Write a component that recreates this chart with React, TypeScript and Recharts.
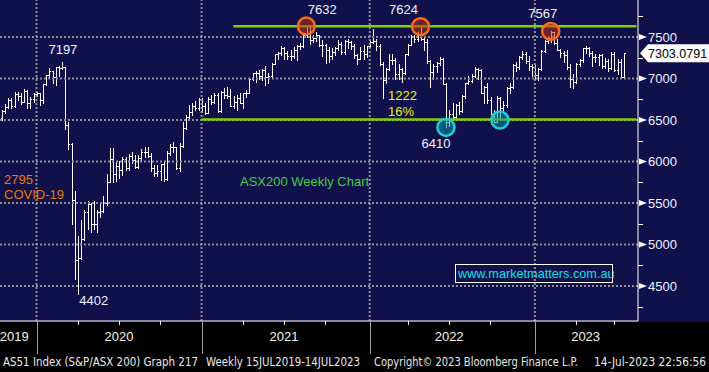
import React from 'react';
import { ComposedChart, Bar, XAxis, YAxis, ReferenceLine, ReferenceDot } from 'recharts';

// ASX200 weekly bars, week ending 11 Oct 2019 .. 14 Jul 2023
const weekOpen = [
  6530, 6606, 6651, 6741, 6670, 6815, 6794, 6717, 6846, 6710, 6750, 6816,
  6821, 6735, 6929, 7042, 7091, 7017, 7133, 7130, 7139, 6441, 6216, 5539, 4817, 4842, 5068, 5388, 5487, 5242,
  5245, 5391, 5405, 5497, 5755, 6036, 5847, 5942, 5897, 6032, 5919, 6069, 6024, 5928, 6040, 6111, 6111, 6072,
  5925, 5859, 5885, 5965, 5791, 6102, 6176, 6173, 5927, 6190, 6405, 6539, 6601, 6670, 6642, 6757,
  6664, 6587, 6757, 6715, 6800, 6607, 6840, 6800, 6794, 6673, 6711, 6767, 6708, 6824, 6828, 6995, 7063, 7061,
  7025, 7105, 7014, 7030, 7179, 7296, 7312, 7368, 7308, 7269, 7272, 7347, 7394, 7392, 7522, 7628, 7461, 7489,
  7522, 7406, 7404, 7342, 7277, 7320, 7362, 7415, 7324, 7457, 7443, 7396, 7279, 7240, 7327, 7293, 7387,
  7444, 7453, 7393, 7174, 6988, 7120, 7217, 7225, 7049, 7111, 7064, 7295, 7406, 7499, 7478, 7523, 7473, 7435,
  7205, 7075, 7146, 7182, 7238, 6931, 6475, 6578, 6539, 6678, 6605, 6792, 6945, 6974, 7032, 7114, 7105, 6829,
  6894, 6739, 6574, 6474, 6762, 6645, 6677, 6886, 6892, 7158, 7135, 7259, 7301, 7213, 7148, 7140,
  7039, 7110, 7332, 7452, 7493, 7558, 7433, 7347, 7307, 7284, 7144, 6995, 6955, 7178, 7221, 7362, 7366, 7309,
  7257, 7256, 7279, 7154, 7216, 7123, 7294, 7100, 7203, 7019,
];
const weekHigh = [
  6620, 6695, 6760, 6760, 6840, 6840, 6830, 6870, 6860, 6780, 6830, 6840,
  6830, 6930, 7045, 7127, 7095, 7140, 7145, 7197, 7140, 6475, 6220, 5640, 5100, 5290, 5420, 5530, 5500, 5530,
  5420, 5500, 5580, 5850, 6160, 6165, 5990, 6010, 6060, 6060, 6090, 6110, 6080, 6080, 6150, 6170, 6180, 6100,
  5960, 5960, 5970, 5990, 6130, 6215, 6230, 6180, 6220, 6470, 6560, 6680, 6700, 6730, 6770, 6760,
  6700, 6775, 6800, 6825, 6830, 6850, 6880, 6900, 6870, 6790, 6800, 6830, 6830, 6860, 7000, 7070, 7090, 7100,
  7120, 7150, 7070, 7190, 7300, 7320, 7390, 7385, 7330, 7340, 7380, 7400, 7430, 7540, 7632, 7630, 7530, 7560,
  7530, 7470, 7420, 7380, 7370, 7380, 7460, 7440, 7470, 7480, 7450, 7420, 7300, 7380, 7400, 7390, 7460,
  7600, 7480, 7420, 7200, 7130, 7290, 7300, 7250, 7170, 7130, 7300, 7420, 7520, 7520, 7560, 7624, 7510, 7480,
  7220, 7170, 7200, 7260, 7250, 6940, 6620, 6700, 6690, 6720, 6800, 6950, 7030, 7060, 7140, 7130, 7110, 6910,
  6950, 6780, 6620, 6790, 6780, 6730, 6900, 6950, 7170, 7200, 7270, 7330, 7320, 7270, 7180, 7160,
  7130, 7340, 7470, 7500, 7567, 7560, 7480, 7360, 7330, 7340, 7180, 7050, 7190, 7240, 7370, 7390, 7380, 7330,
  7300, 7300, 7290, 7250, 7240, 7320, 7320, 7230, 7230, 7310,
];
const weekLow = [
  6495, 6590, 6640, 6640, 6660, 6740, 6690, 6715, 6640, 6650, 6720, 6790,
  6680, 6700, 6920, 7020, 6950, 6920, 7030, 7110, 6390, 6150, 5245, 4590, 4402, 4830, 5050, 5190, 5150, 5190,
  5150, 5330, 5390, 5480, 5750, 5750, 5760, 5800, 5840, 5900, 5900, 5980, 5920, 5920, 6020, 6050, 6050, 5890,
  5830, 5830, 5780, 5760, 5780, 6080, 6110, 5910, 5890, 6180, 6390, 6520, 6560, 6620, 6620, 6600,
  6570, 6580, 6690, 6700, 6600, 6600, 6770, 6760, 6670, 6650, 6620, 6700, 6640, 6780, 6820, 6980, 6960, 6990,
  6980, 6920, 6940, 7020, 7170, 7230, 7280, 7230, 7240, 7220, 7250, 7220, 7360, 7380, 7500, 7420, 7440, 7450,
  7390, 7270, 7190, 7200, 7240, 7280, 7340, 7300, 7290, 7370, 7360, 7250, 7170, 7230, 7240, 7260, 7380,
  7430, 7340, 7160, 6760, 6940, 7100, 7170, 6990, 7000, 6960, 7050, 7280, 7400, 7440, 7450, 7460, 7340, 7190,
  6900, 7000, 7080, 7160, 6930, 6410, 6430, 6520, 6500, 6570, 6600, 6770, 6930, 6960, 7020, 6990, 6820, 6700,
  6700, 6570, 6470, 6470, 6500, 6600, 6660, 6820, 6880, 7090, 7120, 7240, 7190, 7100, 7030, 6990,
  6980, 7100, 7320, 7430, 7440, 7410, 7340, 7260, 7200, 7120, 6900, 6890, 6950, 7150, 7200, 7310, 7270, 7150,
  7200, 7160, 7130, 7130, 7090, 7110, 7090, 7060, 7010, 7010,
];
const weekClose = [
  6606, 6651, 6741, 6670, 6815, 6794, 6717, 6846, 6710, 6750, 6816, 6821,
  6735, 6929, 7042, 7091, 7017, 7133, 7130, 7139, 6441, 6216, 5539, 4817, 4842, 5068, 5388, 5487, 5242, 5245,
  5391, 5405, 5497, 5755, 6036, 5847, 5942, 5897, 6032, 5919, 6069, 6024, 5928, 6040, 6111, 6111, 6072, 5925,
  5859, 5885, 5965, 5791, 6102, 6176, 6173, 5927, 6190, 6405, 6539, 6601, 6670, 6642, 6757, 6664,
  6587, 6757, 6715, 6800, 6607, 6840, 6800, 6794, 6673, 6711, 6767, 6708, 6824, 6828, 6995, 7063, 7061, 7025,
  7105, 7014, 7030, 7179, 7296, 7312, 7368, 7308, 7269, 7272, 7347, 7394, 7392, 7522, 7628, 7461, 7489, 7522,
  7406, 7404, 7342, 7277, 7320, 7362, 7415, 7324, 7457, 7443, 7396, 7279, 7240, 7327, 7293, 7387, 7444,
  7453, 7393, 7174, 6988, 7120, 7217, 7225, 7049, 7111, 7064, 7295, 7406, 7499, 7478, 7523, 7473, 7435, 7205,
  7075, 7146, 7182, 7238, 6931, 6475, 6578, 6539, 6678, 6605, 6792, 6945, 6974, 7032, 7114, 7105, 6829, 6894,
  6739, 6574, 6474, 6762, 6645, 6677, 6886, 6892, 7158, 7135, 7259, 7301, 7213, 7148, 7140, 7039,
  7110, 7332, 7452, 7493, 7558, 7433, 7347, 7307, 7284, 7144, 6995, 6955, 7178, 7221, 7362, 7366, 7309, 7257,
  7256, 7279, 7154, 7216, 7123, 7294, 7100, 7203, 7019, 7303,
];

const firstWeek = '2019-10-11';
const padWeeks = 4;
const lastPrice = 7303.0791;

const yearEnds = ['2019-12-27', '2020-12-25', '2021-12-31', '2022-12-30'];
const quarterEnds = [
  '2020-03-27', '2020-06-26', '2020-09-25', '2021-03-26', '2021-06-25', '2021-09-24',
  '2022-03-25', '2022-06-24', '2022-09-23', '2023-03-31', '2023-06-23',
];
const yearLabels: [string, string][] = [
  ['2019-11-08', '2019'], ['2020-06-26', '2020'], ['2021-06-25', '2021'], ['2022-06-24', '2022'], ['2023-04-21', '2023'],
];
const majorTicks = [4500, 5000, 5500, 6000, 6500, 7000, 7500];
const minorTicks = [4250, 4750, 5250, 5750, 6250, 6750, 7250, 7750];

const resistance = 7630;
const support = 6505;
const resistanceFrom = '2021-03-05';
const supportFrom = '2020-12-25';

const peaks = [
  { week: '2021-08-13', value: 7632 },
  { week: '2022-04-22', value: 7624 },
  { week: '2023-02-03', value: 7567 },
];
const troughs = [
  { week: '2022-06-17', value: 6410 },
  { week: '2022-10-14', value: 6500 },
];
const priceNotes = [
  { week: '2020-02-21', value: 7197, dx: 1, dy: -8 },
  { week: '2021-08-13', value: 7632, dx: 16, dy: -12 },
  { week: '2022-04-22', value: 7624, dx: -17, dy: -12.5 },
  { week: '2023-02-03', value: 7567, dx: -8, dy: -13 },
  { week: '2020-03-27', value: 4402, dx: 16, dy: 11 },
  { week: '2022-06-17', value: 6410, dx: -10, dy: 21 },
];

// footer pieces: [text, left, width]
const footer: [string, number, number][] = [
  ['AS51 Index (S&P/ASX 200) Graph 217', 3, 195],
  ['Weekly 15JUL2019-14JUL2023', 206, 154],
  ['Copyright\u00a9 2023 Bloomberg Finance L.P.', 374, 204],
  ['14-Jul-2023 22:56:56', 594, 112],
];

function weekDates(start: string, n: number) {
  const t0 = new Date(start + 'T00:00:00Z').getTime();
  const out: string[] = [];
  for (let i = 0; i < n; i++) out.push(new Date(t0 + i * 7 * 86400000).toISOString().slice(0, 10));
  return out;
}

const allWeeks = weekDates(firstWeek, weekClose.length + padWeeks);
const data = allWeeks.map((week, i) =>
  i < weekClose.length
    ? { week, open: weekOpen[i], high: weekHigh[i], low: weekLow[i], close: weekClose[i], range: [weekLow[i], weekHigh[i]] }
    : { week }
);
const lastWeek = allWeeks[allWeeks.length - 1];

const FONT = '"Liberation Sans", Arial, sans-serif';
const NARROW = '"DejaVu Sans Condensed", "Liberation Sans Narrow", sans-serif';
const NAVY = '#10104a';
const GRID = '#8e8e96';
const GREEN = '#80d000';

function OhlcShape(props: any) {
  const { x, y, width, height, payload } = props;
  if (!payload || payload.close == null || height == null) return null;
  const top = Math.min(y, y + height);
  const bot = Math.max(y, y + height);
  const span = payload.high - payload.low || 1;
  const py = (v: number) => Math.round(top + ((payload.high - v) / span) * (bot - top)) + 0.5;
  const cx = Math.round(x + width / 2) + 0.5;
  const d = `M${cx - 1.5},${py(payload.open)}H${cx}M${cx},${Math.round(top)}V${Math.round(bot) + 1}M${cx},${py(payload.close)}H${cx + 1.5}`;
  return <path d={d} stroke="#ffffff" strokeWidth={1} fill="none" />;
}

function WeekTick(props: any) {
  const { x, y, payload } = props;
  const w = payload.value;
  const lab = yearLabels.find((l) => l[0] === w);
  const X = Math.round(x) + 0.5;
  return (
    <g>
      {yearEnds.includes(w) && <line x1={X} x2={X} y1={y + 1} y2={y + 33} stroke="#a0a0a0" />}
      {quarterEnds.includes(w) && <line x1={X} x2={X} y1={y} y2={y + 4} stroke="#ffffff" />}
      {lab && (
        <text x={x} y={y + 20} textAnchor="middle" fill="#f0f0f0" fontSize={13} fontFamily={FONT}>
          {lab[1]}
        </text>
      )}
    </g>
  );
}

function PriceTick(props: any) {
  const { x, y, payload } = props;
  const v = payload.value;
  if (v === lastPrice) {
    return (
      <g>
        <path d={`M${x + 2},${y} L${x + 10},${y - 9} H709 V${y + 9} H${x + 10} Z`} fill="#ffffff" />
        <text x={x + 10} y={y + 4.5} fill="#000000" fontSize={12.5} fontFamily={FONT}>
          {v.toFixed(4)}
        </text>
      </g>
    );
  }
  const Y = Math.round(y) + 0.5;
  if (minorTicks.includes(v)) return <line x1={x} x2={x + 5} y1={Y} y2={Y} stroke="#ffffff" />;
  return (
    <g>
      <path d={`M${x + 1},${y - 3} L${x + 9},${y} L${x + 1},${y + 3} Z`} fill="#ffffff" />
      <text x={x + 10} y={y + 4.7} fill="#eef0ff" fontSize={13} fontFamily={FONT}>
        {v}
      </text>
    </g>
  );
}

const noteShape = (label: string, dx: number, dy: number) => (p: any) => (
  <text x={p.cx + dx} y={p.cy + dy} textAnchor="middle" fill="#eef2ff" fontSize={13} fontFamily={FONT}>
    {label}
  </text>
);

export default function App() {
  const xTicks = Array.from(new Set([...yearEnds, ...quarterEnds, ...yearLabels.map((l) => l[0])]));
  return (
    <div
      style={{
        position: 'absolute',
        left: 0,
        top: 0,
        width: 709,
        height: 372,
        background: `linear-gradient(${NAVY} 0 322px, #000000 322px)`,
        overflow: 'hidden',
      }}
    >
      <ComposedChart width={709} height={372} data={data} margin={{ top: 0, right: 0, bottom: 0, left: 0 }}>
        <XAxis
          dataKey="week"
          ticks={xTicks}
          interval={0}
          tick={<WeekTick />}
          tickLine={false}
          tickSize={0}
          tickMargin={0}
          height={51}
          axisLine={{ stroke: '#ffffff' }}
        />
        <YAxis
          orientation="right"
          width={71}
          domain={[4078, 7946]}
          allowDataOverflow
          ticks={[...minorTicks, ...majorTicks, lastPrice]}
          interval={0}
          tick={<PriceTick />}
          tickLine={false}
          tickSize={0}
          tickMargin={0}
          axisLine={{ stroke: '#ffffff' }}
        />
        {majorTicks.map((v) => (
          <ReferenceLine key={v} y={v} stroke={GRID} strokeWidth={2} strokeDasharray="2 2" />
        ))}
        {yearEnds.map((w) => (
          <ReferenceLine key={w} x={w} stroke={GRID} strokeWidth={2} strokeDasharray="2 2" />
        ))}
        <ReferenceLine
          segment={[{ x: resistanceFrom, y: resistance }, { x: lastWeek, y: resistance }]}
          stroke={GREEN}
          strokeWidth={2.5}
          ifOverflow="visible"
        />
        <ReferenceLine
          segment={[{ x: supportFrom, y: support }, { x: lastWeek, y: support }]}
          stroke={GREEN}
          strokeWidth={2.5}
          ifOverflow="visible"
        />
        <Bar dataKey="range" shape={OhlcShape} isAnimationActive={false} />
        {peaks.map((p) => (
          <ReferenceDot
            key={p.week}
            x={p.week}
            y={p.value}
            r={8.5}
            fill="rgba(190,50,20,0.55)"
            stroke="#ff6a10"
            strokeWidth={2.5}
          />
        ))}
        {troughs.map((p) => (
          <ReferenceDot
            key={p.week}
            x={p.week}
            y={p.value}
            r={8.5}
            fill="rgba(0,150,165,0.55)"
            stroke="#22ccd6"
            strokeWidth={2.5}
          />
        ))}
        {priceNotes.map((n) => (
          <ReferenceDot key={'n' + n.week} x={n.week} y={n.value} r={0} shape={noteShape(String(n.value), n.dx, n.dy)} />
        ))}
      </ComposedChart>
      <svg
        width={709}
        height={372}
        style={{ position: 'absolute', left: 0, top: 0, pointerEvents: 'none' }}
        fontFamily={FONT}
      >
        <text x={4} y={184} fill="#e8780f" fontSize={13}>2795</text>
        <text x={4} y={199} fill="#e8780f" fontSize={13}>COVID-19</text>
        <text x={388} y={100} fill="#e6f000" fontSize={13}>1222</text>
        <text x={388} y={116} fill="#e6f000" fontSize={13}>16%</text>
        <text x={240} y={186} fill="#44cc44" fontSize={13}>ASX200 Weekly Chart</text>
        <rect x={455.5} y={264.5} width={157} height={18} fill="none" stroke="#ffffff" strokeWidth={1} />
        <text x={458} y={278} fill="#10e0e8" fontSize={12.7}>www.marketmatters.com.au</text>
        {footer.map(([t, left, w]) => (
          <text
            key={t}
            x={left}
            y={366}
            fill="#e8e8e8"
            fontSize={11.5}
            fontFamily={NARROW}
            textLength={w}
            lengthAdjust="spacingAndGlyphs"
          >
            {t}
          </text>
        ))}
      </svg>
    </div>
  );
}
